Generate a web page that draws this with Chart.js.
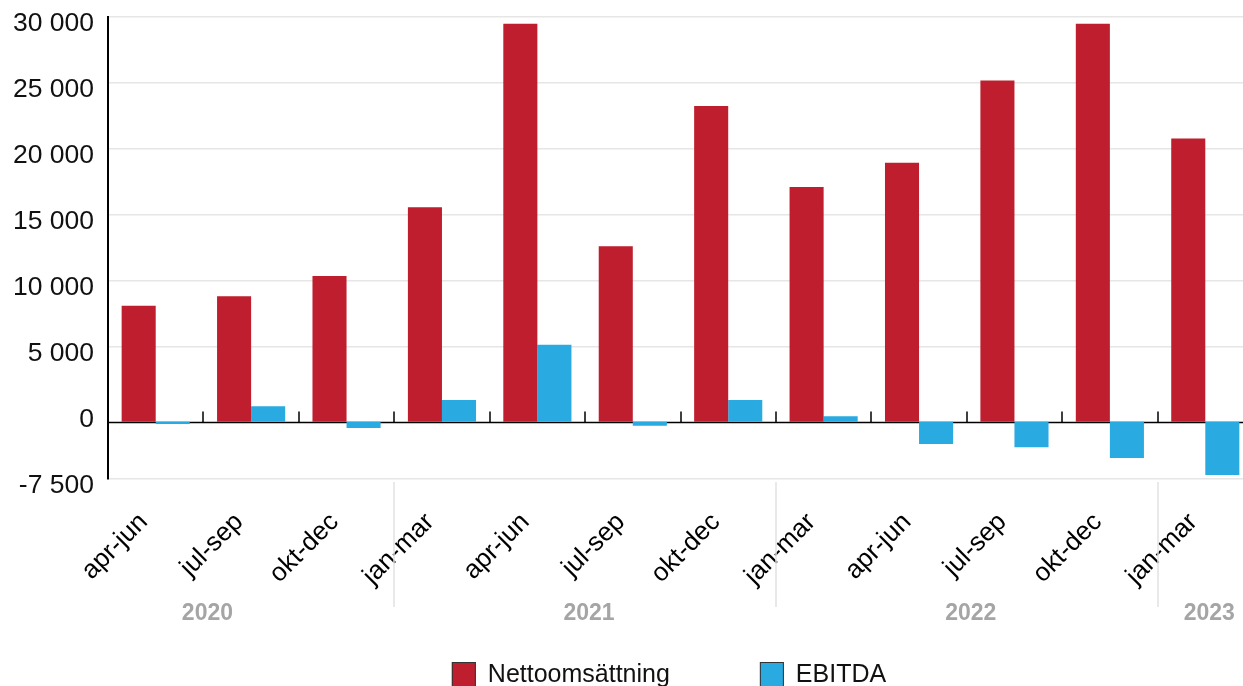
<!DOCTYPE html>
<html>
<head>
<meta charset="utf-8">
<script src="https://cdn.jsdelivr.net/npm/chart.js@4.4.0/dist/chart.umd.min.js"></script>
<style>
  body { margin: 0; overflow: hidden; background: #fff; }
  #wrap { width: 1256px; height: 686px; }
</style>
</head>
<body>
<div id="wrap"><canvas id="chart" width="1256" height="686"></canvas></div>
<script>
const categories = ['apr-jun', 'jul-sep', 'okt-dec', 'jan-mar', 'apr-jun', 'jul-sep', 'okt-dec', 'jan-mar', 'apr-jun', 'jul-sep', 'okt-dec', 'jan-mar'];
const netSales = [8600, 9300, 10800, 15900, 29500, 13000, 23400, 17400, 19200, 25300, 29500, 21000];
const ebitda = [-170, 1150, -470, 1600, 5700, -300, 1600, 400, -1650, -1900, -2700, -3950];
const yTickValues = [-5000, 0, 5000, 10000, 15000, 20000, 25000, 30000];
const yTickLabels = ['-7 500', '0', '5 000', '10 000', '15 000', '20 000', '25 000', '30 000'];
const years = ['2020', '2021', '2022', '2023'];
const yearFirst = [-1, 3, 7, 11]; // 2020 starts with jan-mar, which is off the chart
const yearLast = [2, 6, 10, 11];

const RED = '#be1e2d';
const BLUE = '#29abe2';
const FONT = '"Liberation Sans", Arial, sans-serif';

const decorations = {
  id: 'decorations',
  beforeDatasetsDraw(chart) {
    const { ctx, chartArea, scales } = chart;
    const y0 = Math.round(scales.y2.getPixelForValue(0)) + 0.5;
    ctx.save();
    ctx.strokeStyle = '#000';
    ctx.lineWidth = 1.5;
    ctx.beginPath();
    ctx.moveTo(chartArea.left, y0);
    ctx.lineTo(chartArea.right, y0);
    for (let i = 0; i < categories.length; i++) {
      const px = Math.round(scales.x.getPixelForValue(i + 0.5));
      ctx.moveTo(px, y0);
      ctx.lineTo(px, y0 - 11);
    }
    ctx.stroke();
    ctx.restore();
  },
  afterDraw(chart) {
    const { ctx, chartArea, scales } = chart;
    const x = scales.x;
    ctx.save();

    // year separators
    ctx.strokeStyle = '#e2e2e2';
    ctx.lineWidth = 1.5;
    ctx.beginPath();
    for (let k = 0; k < years.length - 1; k++) {
      const px = Math.round(x.getPixelForValue(yearLast[k] + 0.5));
      ctx.moveTo(px, chartArea.bottom + 3);
      ctx.lineTo(px, 607);
    }
    ctx.stroke();

    // year labels
    ctx.fillStyle = '#a5a5a5';
    ctx.font = 'bold 23px ' + FONT;
    ctx.textAlign = 'center';
    ctx.textBaseline = 'middle';
    years.forEach((yr, k) => {
      const cx = (x.getPixelForValue(yearFirst[k] - 0.5) + x.getPixelForValue(yearLast[k] + 0.5)) / 2;
      ctx.fillText(yr, cx + 4, 614);
    });

    // legend
    const items = chart.data.datasets.map(d => ({ label: d.label, color: d.backgroundColor }));
    ctx.font = '25px ' + FONT;
    const gap = 90, box = 24;
    const widths = items.map(it => box + 12 + ctx.measureText(it.label).width);
    const total = widths.reduce((a, b) => a + b, 0) + gap * (items.length - 1);
    let lx = 669 - total / 2;
    ctx.textAlign = 'left';
    items.forEach((it, i) => {
      ctx.fillStyle = it.color;
      ctx.fillRect(lx, 662, box, box);
      ctx.strokeStyle = '#333';
      ctx.lineWidth = 1;
      ctx.strokeRect(lx + 0.5, 662.5, box - 1, box);
      ctx.fillStyle = '#111';
      ctx.fillText(it.label, lx + box + 12, 675);
      lx += widths[i] + gap;
    });
    ctx.restore();
  }
};

new Chart(document.getElementById('chart'), {
  type: 'bar',
  data: {
    labels: categories,
    datasets: [
      { label: 'Nettoomsättning', data: netSales, backgroundColor: RED, yAxisID: 'y2', barPercentage: 1, categoryPercentage: 0.714 },
      { label: 'EBITDA', data: ebitda, backgroundColor: BLUE, yAxisID: 'y2', barPercentage: 1, categoryPercentage: 0.714 }
    ]
  },
  options: {
    responsive: false,
    animation: false,
    layout: { padding: { top: 17, right: 3, left: 0, bottom: 0 } },
    plugins: {
      legend: { display: false },
      tooltip: { enabled: false }
    },
    scales: {
      x: {
        grid: { display: false },
        border: { display: false },
        ticks: {
          color: '#000',
          font: { size: 26, family: FONT },
          minRotation: 45,
          maxRotation: 45,
          autoSkip: false,
          padding: 20,
          labelOffset: -12
        },
        afterFit(s) { s.height = 207; s.paddingLeft = 0; s.paddingRight = 0; }
      },
      y: {
        position: 'left',
        min: -5000,
        max: 30000,
        afterBuildTicks(s) { s.ticks = yTickValues.map(v => ({ value: v })); },
        ticks: {
          callback: (v, i) => yTickLabels[i],
          color: '#111',
          font: { size: 26.5, family: FONT },
          padding: 14,
          labelOffset: 7
        },
        grid: {
          color: c => (c.tick && c.tick.value === 0 ? 'rgba(0,0,0,0)' : '#e6e6e6'),
          lineWidth: 1.5,
          drawTicks: false
        },
        border: { display: true, color: '#000', width: 2 },
        afterFit(s) { s.width = 108; s.paddingTop = 0; s.paddingBottom = 0; }
      },
      y2: { display: false, min: -4250, max: 30000 }
    }
  },
  plugins: [decorations]
});
</script>
</body>
</html>
